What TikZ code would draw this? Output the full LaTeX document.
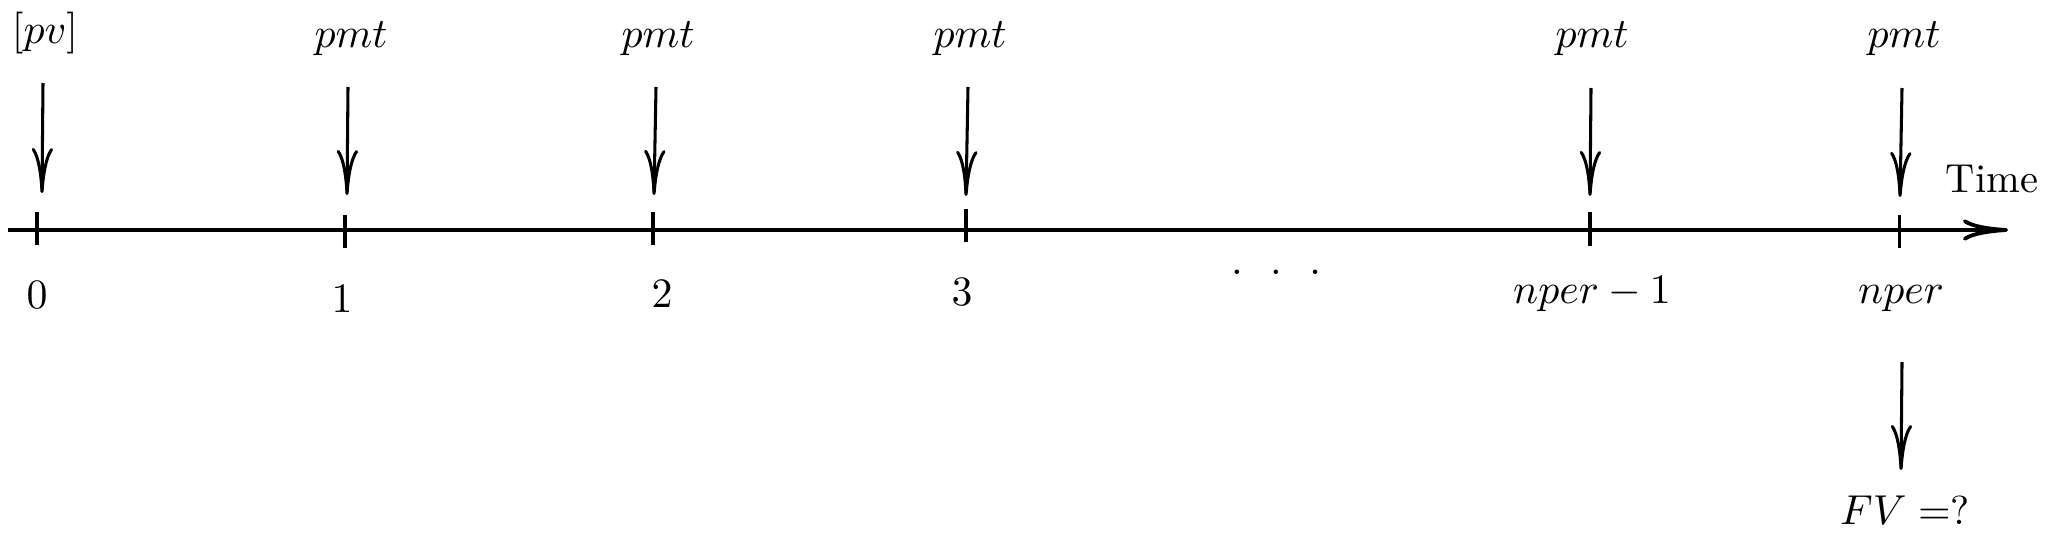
\documentclass[tikz,border=0pt]{standalone}
\usetikzlibrary{arrows.meta}
\begin{document}
\begin{tikzpicture}[x=0.2618pt,y=-0.2618pt,
  axisline/.style={line width=1pt,-{Computer Modern Rightarrow[length=11.8pt,width=5.6pt]}},
  tickline/.style={line width=0.8pt},
  flow/.style={line width=0.8pt,-{Computer Modern Rightarrow[length=11.8pt,width=5.6pt]}},
  lbl/.style={inner sep=0pt,anchor=base,font=\fontsize{10.6}{12.7}\selectfont}]
\useasboundingbox (0,0) rectangle (2047,539);
% axis
\coordinate (axS) at (8,230);
\coordinate (axE) at (2008,230);
\draw[axisline] (axS) -- (axE);
% ticks
\coordinate (k0a) at (37,212);   \coordinate (k0b) at (37,245);
\coordinate (k1a) at (345,215);  \coordinate (k1b) at (345,248);
\coordinate (k2a) at (653,212);  \coordinate (k2b) at (653,245);
\coordinate (k3a) at (966,209);  \coordinate (k3b) at (966,242);
\coordinate (k4a) at (1590,212); \coordinate (k4b) at (1590,246);
\coordinate (k5a) at (1899,215); \coordinate (k5b) at (1899,248);
\foreach \i in {0,...,5} {\draw[tickline] (k\i a) -- (k\i b);}
% arrows
\coordinate (a0s) at (43,83);    \coordinate (a0e) at (42,193);
\coordinate (a1s) at (348,87);   \coordinate (a1e) at (347,195);
\coordinate (a2s) at (656,87);   \coordinate (a2e) at (654,195);
\coordinate (a3s) at (968,87);   \coordinate (a3e) at (966,196);
\coordinate (a4s) at (1591,88);  \coordinate (a4e) at (1590,196);
\coordinate (a5s) at (1902,88);  \coordinate (a5e) at (1900,197);
\coordinate (a6s) at (1902,362); \coordinate (a6e) at (1901,470);
\foreach \i in {0,...,6} {\draw[flow] (a\i s) -- (a\i e);}
% top labels
\node[lbl] (pv)   at (45,43.5) {$[pv]$};
\node[lbl] (pmt1) at (351,47) {$pmt$};
\node[lbl] (pmt2) at (658,47) {$pmt$};
\node[lbl] (pmt3) at (970,47) {$pmt$};
\node[lbl] (pmt4) at (1592,47) {$pmt$};
\node[lbl] (pmt5) at (1904,47) {$pmt$};
% bottom labels
\node[lbl] (l0) at (37,308) {$0$};
\node[lbl] (l1) at (342,312) {$1$};
\node[lbl] (l2) at (662,307) {$2$};
\node[lbl] (l3) at (962,305) {$3$};
\node[lbl] (dots) at (1276,274) {$.\hspace{7.2pt}.\hspace{7.2pt}.$};
\node[lbl] (l4) at (1592,303) {$nper-1$};
\node[lbl] (l5) at (1901,303) {$nper$};
\node[lbl,anchor=base west] (time) at (1945,192) {Time};
\node[lbl] (fv) at (1905,524) {$FV =$?};
\end{tikzpicture}
\end{document}
